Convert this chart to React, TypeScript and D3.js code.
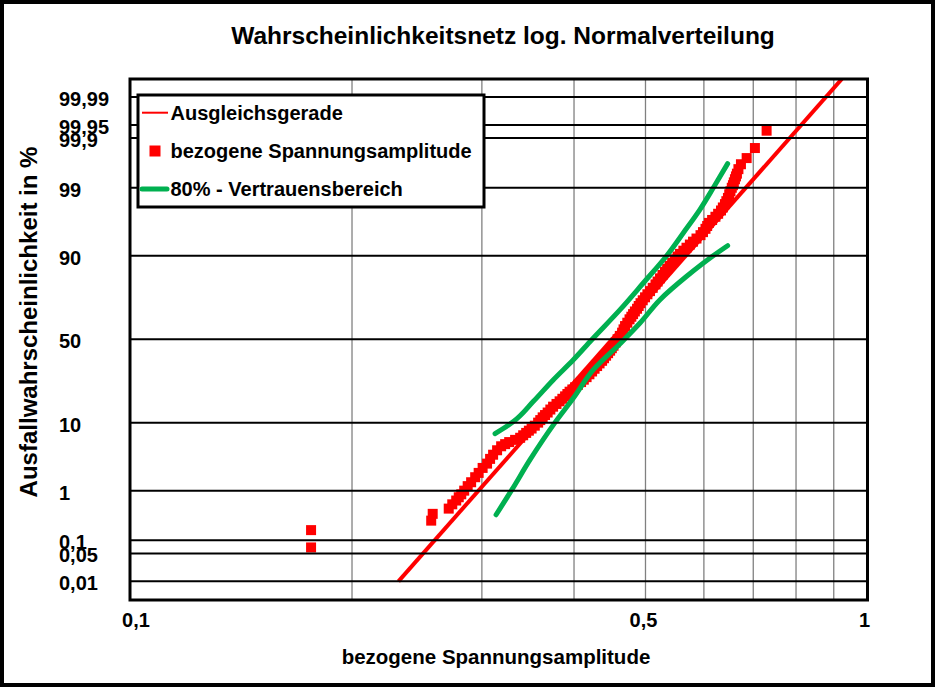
import React from 'react';
import * as d3 from 'd3';

// ---------- data ----------
const chartTitle = 'Wahrscheinlichkeitsnetz log. Normalverteilung';
const xAxisTitle = 'bezogene Spannungsamplitude';
const yAxisTitle = 'Ausfallwahrscheinlichkeit in %';

const probTicks = [99.99, 99.95, 99.9, 99, 90, 50, 10, 1, 0.1, 0.05, 0.01];
const probTickLabels = ['99,99', '99,95', '99,9', '99', '90', '50', '10', '1', '0,1', '0,05', '0,01'];

const xGridValues = [0.2, 0.3, 0.4, 0.5, 0.6, 0.7, 0.8, 0.9];
const xTickValues = [0.1, 0.5, 1];
const xTickLabels = ['0,1', '0,5', '1'];

// measured points: failure probability in % and bezogene Spannungsamplitude
const pointProb = [
  0.069, 0.168, 0.266, 0.365, 0.463, 0.56, 0.66, 0.76, 0.86, 1.0,
  1.2, 1.4, 1.7, 2.0, 2.4, 2.8, 3.3, 3.8, 4.4, 5.0,
  5.35, 5.7, 6.1, 6.5, 7.0, 7.5, 8.0, 8.5, 9.2, 10,
  10.7, 11.5, 12.2, 13, 14, 15, 16, 17, 18, 19,
  20, 21, 22, 23, 24.2, 25.5, 26.7, 28, 29.5, 31,
  32.5, 34, 35.5, 37, 38.5, 40, 41.5, 43, 44.5, 46,
  48, 50, 52, 54, 56, 58, 60, 62, 63.5, 65,
  66.5, 68, 69.5, 71, 72.5, 74, 75.5, 77, 78.5, 80,
  81.2, 82.5, 83.8, 85, 86, 87, 88, 89, 89.8, 90.5,
  91.3, 92, 92.7, 93.3, 93.9, 94.5, 95, 95.5, 95.9, 96.3,
  96.65, 97, 97.3, 97.6, 97.85, 98.1, 98.3, 98.5, 98.7, 98.85,
  99.0, 99.1, 99.2, 99.3, 99.38, 99.45, 99.55, 99.64, 99.73, 99.834,
  99.932,
];
const pointAmplitude = [
  0.176, 0.176, 0.2561, 0.2573, 0.2705, 0.2735, 0.2769, 0.2791, 0.2813, 0.2839,
  0.287, 0.2901, 0.2938, 0.297, 0.3007, 0.3049, 0.3078, 0.3107, 0.3146, 0.3186,
  0.3226, 0.3267, 0.3328, 0.3381, 0.3413, 0.3445, 0.3474, 0.3504, 0.3539, 0.3576,
  0.36, 0.3627, 0.3654, 0.3684, 0.3715, 0.3747, 0.3787, 0.3824, 0.3857, 0.389,
  0.3918, 0.3945, 0.3979, 0.4013, 0.405, 0.4089, 0.4124, 0.416, 0.4197, 0.4232,
  0.4265, 0.4299, 0.4332, 0.4366, 0.4393, 0.4421, 0.4449, 0.4477, 0.4501, 0.4525,
  0.4554, 0.4583, 0.4615, 0.4648, 0.4669, 0.4691, 0.4724, 0.4757, 0.4784, 0.481,
  0.4837, 0.487, 0.4895, 0.4923, 0.4957, 0.4993, 0.503, 0.5071, 0.5114, 0.5159,
  0.5193, 0.5232, 0.5272, 0.5314, 0.535, 0.539, 0.5434, 0.5483, 0.5527, 0.5569,
  0.5628, 0.5683, 0.5743, 0.58, 0.5863, 0.5937, 0.5983, 0.603, 0.6062, 0.6095,
  0.6156, 0.622, 0.6273, 0.6329, 0.6366, 0.6408, 0.6436, 0.6468, 0.6494, 0.6519,
  0.6546, 0.657, 0.6588, 0.6611, 0.6632, 0.6652, 0.6683, 0.6736, 0.6857, 0.7036,
  0.7298,
];

// Ausgleichsgerade (straight line in the probability net)
const fitAmplitude = [0.2312, 0.923];
const fitProb = [0.01, 99.9968];

// 80% - Vertrauensbereich
const upperAmplitude = [0.3126, 0.3311, 0.3524, 0.3751, 0.3992, 0.4228, 0.4619, 0.4966, 0.5342, 0.5626, 0.5926, 0.6177, 0.6462];
const upperProb = [7.33, 10.3, 17.0, 26.7, 37.6, 49.7, 67.5, 80.6, 90.0, 94.86, 97.67, 98.99, 99.65];
const lowerAmplitude = [0.3136, 0.3295, 0.3487, 0.3771, 0.3992, 0.4249, 0.4648, 0.4915, 0.5232, 0.5686, 0.6177, 0.6462];
const lowerProb = [0.35, 1.04, 3.21, 10.06, 18.3, 32.0, 48.5, 59.8, 72.8, 83.3, 90.0, 92.45];

const legendLabels = ['Ausgleichsgerade', 'bezogene Spannungsamplitude', '80% - Vertrauensbereich'];

// ---------- helpers ----------
function probit(p: number): number {
  const a = [-3.969683028665376e1, 2.209460984245205e2, -2.759285104469687e2, 1.38357751867269e2, -3.066479806614716e1, 2.506628277459239];
  const b = [-5.447609879822406e1, 1.615858368580409e2, -1.556989798598866e2, 6.680131188771972e1, -1.328068155288572e1];
  const c = [-7.784894002430293e-3, -3.223964580411365e-1, -2.400758277161838, -2.549732539343734, 4.374664141464968, 2.938163982698783];
  const d = [7.784695709041462e-3, 3.224671290700398e-1, 2.445134137142996, 3.754408661907416];
  const pl = 0.02425;
  if (p < pl) {
    const q = Math.sqrt(-2 * Math.log(p));
    return (((((c[0] * q + c[1]) * q + c[2]) * q + c[3]) * q + c[4]) * q + c[5]) / ((((d[0] * q + d[1]) * q + d[2]) * q + d[3]) * q + 1);
  }
  if (p <= 1 - pl) {
    const q = p - 0.5;
    const r = q * q;
    return ((((((a[0] * r + a[1]) * r + a[2]) * r + a[3]) * r + a[4]) * r + a[5]) * q) / (((((b[0] * r + b[1]) * r + b[2]) * r + b[3]) * r + b[4]) * r + 1);
  }
  const q = Math.sqrt(-2 * Math.log(1 - p));
  return -(((((c[0] * q + c[1]) * q + c[2]) * q + c[3]) * q + c[4]) * q + c[5]) / ((((d[0] * q + d[1]) * q + d[2]) * q + d[3]) * q + 1);
}

const W = 936;
const H = 687;
const plot = { left: 130, right: 867.5, top: 79, bottom: 600 };

const xScale = d3.scaleLog().domain([0.1, 1]).range([plot.left, plot.right]);
const zScale = d3.scaleLinear().domain([-4, 4]).range([599.6, 78.8]);
const yP = (pct: number) => zScale(probit(pct / 100));

const FONT = "'Liberation Sans', Arial, Helvetica, sans-serif";

export default function App() {
  const curveLine = d3
    .line<[number, number]>()
    .x((d) => xScale(d[0]))
    .y((d) => yP(d[1]))
    .curve(d3.curveMonotoneY);
  const straight = d3
    .line<[number, number]>()
    .x((d) => xScale(d[0]))
    .y((d) => yP(d[1]));

  const upper: [number, number][] = upperAmplitude.map((v, i) => [v, upperProb[i]]);
  const lower: [number, number][] = lowerAmplitude.map((v, i) => [v, lowerProb[i]]);
  const fit: [number, number][] = fitAmplitude.map((v, i) => [v, fitProb[i]]);

  const green = '#00B050';
  const red = '#FF0000';
  const mk = 10;

  const legend = { x: 138, y: 95, w: 346, h: 112 };

  return (
    <>
      <style>{`body{margin:0}`}</style>
      <svg width={W} height={H} style={{ display: 'block' }} fontFamily={FONT}>
        <defs>
          <clipPath id="plotClip">
            <rect x={plot.left} y={plot.top} width={plot.right - plot.left} height={plot.bottom - plot.top} />
          </clipPath>
        </defs>
        <rect x={0} y={0} width={W} height={H} fill="#fff" />

        {/* vertical grid */}
        {xGridValues.map((v) => (
          <line key={v} x1={xScale(v)} x2={xScale(v)} y1={plot.top} y2={plot.bottom} stroke="#808080" strokeWidth={1.3} />
        ))}

        <g clipPath="url(#plotClip)">
          {/* data points */}
          {pointAmplitude.map((v, i) => (
            <rect key={i} x={xScale(v) - mk / 2} y={yP(pointProb[i]) - mk / 2} width={mk} height={mk} fill={red} />
          ))}
          {/* fit line */}
          <path d={straight(fit) || ''} fill="none" stroke={red} strokeWidth={4} />
          {/* confidence band */}
          <path d={curveLine(upper) || ''} fill="none" stroke={green} strokeWidth={5} strokeLinecap="round" />
          <path d={curveLine(lower) || ''} fill="none" stroke={green} strokeWidth={5} strokeLinecap="round" />
        </g>

        {/* horizontal probability grid */}
        {probTicks.map((p) => (
          <line key={p} x1={plot.left} x2={plot.right} y1={yP(p)} y2={yP(p)} stroke="#000" strokeWidth={2} />
        ))}

        {/* plot border */}
        <rect x={plot.left} y={plot.top} width={plot.right - plot.left} height={plot.bottom - plot.top} fill="none" stroke="#000" strokeWidth={3} />

        {/* y tick labels */}
        {probTicks.map((p, i) => (
          <text key={p} x={59} y={yP(p) + 9} fontSize={20} fontWeight="bold" fill="#000">
            {probTickLabels[i]}
          </text>
        ))}

        {/* x tick labels */}
        {xTickValues.map((v, i) => (
          <text
            key={v}
            x={xScale(v) + (i === 0 ? 6 : i === xTickValues.length - 1 ? -3 : -2)}
            y={627}
            fontSize={20}
            fontWeight="bold"
            textAnchor="middle"
            fill="#000"
          >
            {xTickLabels[i]}
          </text>
        ))}

        {/* legend */}
        <rect x={legend.x} y={legend.y} width={legend.w} height={legend.h} fill="#fff" stroke="#000" strokeWidth={3} />
        <line x1={142} x2={168} y1={112.7} y2={112.7} stroke={red} strokeWidth={2} />
        <rect x={155 - 5.5} y={151 - 5.5} width={11} height={11} fill={red} />
        <line x1={142} x2={167} y1={189} y2={189} stroke={green} strokeWidth={5} strokeLinecap="round" />
        {legendLabels.map((t, i) => (
          <text key={t} x={170.5} y={[119.5, 157.5, 195.5][i]} fontSize={20} fontWeight="bold" fill="#000">
            {t}
          </text>
        ))}

        {/* titles */}
        <text x={503} y={44} fontSize={24.5} fontWeight="bold" textAnchor="middle" fill="#000">
          {chartTitle}
        </text>
        <text x={496} y={664} fontSize={20.5} fontWeight="bold" textAnchor="middle" fill="#000">
          {xAxisTitle}
        </text>
        <text transform={`translate(37,${322}) rotate(-90)`} fontSize={24} fontWeight="bold" textAnchor="middle" fill="#000">
          {yAxisTitle}
        </text>

        {/* outer border */}
        <rect x={2} y={2} width={931} height={683} fill="none" stroke="#000" strokeWidth={4} />
      </svg>
    </>
  );
}
